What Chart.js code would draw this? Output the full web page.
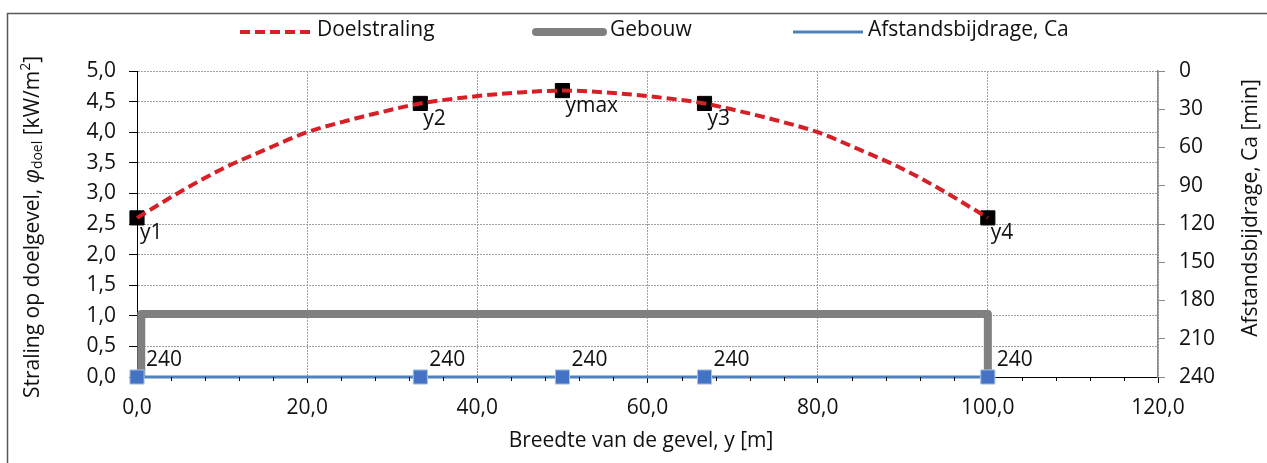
<!DOCTYPE html>
<html>
<head>
<meta charset="utf-8">
<script src="https://cdn.jsdelivr.net/npm/chart.js@4/dist/chart.umd.min.js"></script>
<style>
  html, body { margin: 0; padding: 0; background: #fff; overflow: hidden; }
  #wrap { width: 1267px; height: 463px; position: relative; }
</style>
</head>
<body>
<div id="wrap"><canvas id="chart"></canvas></div>
<script>
// Doelstraling along the facade
const curveX = [0, 5, 10, 15, 20, 25, 30, 33.3, 40, 45, 50, 55, 60, 66.7, 70, 75, 80, 85, 90, 95, 100];
const curveY = [2.6, 3.02, 3.4, 3.71, 4.0, 4.2, 4.37, 4.47, 4.59, 4.65, 4.68, 4.65, 4.59, 4.47, 4.37, 4.2, 4.0, 3.71, 3.4, 3.02, 2.6];

// marked points on the curve
const pointNames = ["y1", "y2", "ymax", "y3", "y4"];
const pointX = [0, 33.3, 50, 66.7, 100];
const pointY = [2.6, 4.47, 4.68, 4.47, 2.6];

// building outline
const gebouwX = [0.5, 0.5, 100, 100];
const gebouwY = [0, 1.03, 1.03, 0];

// Afstandsbijdrage Ca [min] at the marked points
const caValues = [240, 240, 240, 240, 240];

// axis ticks
const xTicks = [0, 20, 40, 60, 80, 100, 120];
const leftTicks = [0, 0.5, 1, 1.5, 2, 2.5, 3, 3.5, 4, 4.5, 5];
const rightTicks = [0, 30, 60, 90, 120, 150, 180, 210, 240];

const FONT = "'Open Sans', 'Noto Sans', sans-serif";
const SIZE = 21;
const TEXT = "#111";
const fmt1 = v => Number(v).toFixed(1).replace(".", ",");
const pairs = (xs, ys) => xs.map((x, i) => ({ x: x, y: ys[i] }));

const datasets = [
    {
        label: "Doelstraling",
        data: pairs(curveX, curveY),
        yAxisID: "y",
        showLine: true,
        borderColor: "#d71f27",
        borderWidth: 4,
        borderDash: [10, 5],
        cubicInterpolationMode: "monotone",
        pointRadius: 0,
        clip: false,
        order: 0
    },
    {
        label: "punten",
        data: pairs(pointX, pointY),
        yAxisID: "y",
        showLine: false,
        pointStyle: "rect",
        pointRadius: 10,
        pointBackgroundColor: "#000",
        pointBorderColor: "#000",
        pointBorderWidth: 1,
        clip: false,
        order: 2
    },
    {
        label: "Gebouw",
        data: pairs(gebouwX, gebouwY),
        yAxisID: "y",
        showLine: true,
        borderColor: "#808080",
        borderWidth: 8,
        borderJoinStyle: "round",
        borderCapStyle: "butt",
        tension: 0,
        pointRadius: 0,
        clip: false,
        order: 3
    },
    {
        label: "Afstandsbijdrage, Ca",
        data: pairs(pointX, caValues),
        yAxisID: "y2",
        showLine: true,
        borderColor: "#4f81bd",
        borderWidth: 3,
        pointStyle: "rect",
        pointRadius: 10,
        pointBackgroundColor: "#4472c4",
        pointBorderColor: "#a9c4e8",
        pointBorderWidth: 1,
        clip: false,
        order: 1
    }
];

// legend row: which datasets, where the sample line goes
const legendItems = [
    { ds: 0, x0: 240, x1: 310, tx: 317, cap: "butt" },
    { ds: 2, x0: 536, x1: 603, tx: 610, cap: "round" },
    { ds: 3, x0: 793, x1: 863, tx: 868, cap: "butt" }
];

function drawRotated(ctx, cx, cy, parts) {
    ctx.save();
    ctx.translate(cx, cy);
    ctx.rotate(-Math.PI / 2);
    let total = 0;
    parts.forEach(p => { ctx.font = p.font; total += ctx.measureText(p.text).width; });
    let x = -total / 2;
    ctx.textBaseline = "middle";
    ctx.textAlign = "left";
    ctx.fillStyle = TEXT;
    parts.forEach(p => {
        ctx.font = p.font;
        ctx.fillText(p.text, x, p.dy || 0);
        x += ctx.measureText(p.text).width;
    });
    ctx.restore();
}

const extras = {
    id: "extras",
    afterDatasetsDraw(chart) {
        const ctx = chart.ctx;
        ctx.save();
        ctx.font = SIZE + "px " + FONT;
        ctx.fillStyle = TEXT;
        ctx.textAlign = "left";

        // names of the marked points
        ctx.textBaseline = "top";
        chart.getDatasetMeta(1).data.forEach((pt, i) => {
            ctx.fillText(pointNames[i], pt.x + 3, pt.y + 5);
        });

        // Ca values above the blue markers
        ctx.textBaseline = "middle";
        chart.getDatasetMeta(3).data.forEach((pt, i) => {
            ctx.fillText(String(caValues[i]), pt.x + 9, pt.y - 17);
        });
        ctx.restore();
    },
    afterDraw(chart) {
        const ctx = chart.ctx;
        const area = chart.chartArea;
        ctx.save();

        // frame
        ctx.strokeStyle = "#595959";
        ctx.lineWidth = 1.5;
        ctx.strokeRect(7.5, 13.5, 1300, 500);

        // minor ticks on the x axis
        const xs = chart.scales.x;
        ctx.strokeStyle = "#000";
        ctx.lineWidth = 1;
        for (let v = 4; v < 120; v += 4) {
            if (v % 20 === 0) continue;
            const px = Math.round(xs.getPixelForValue(v)) + 0.5;
            ctx.beginPath();
            ctx.moveTo(px, area.bottom);
            ctx.lineTo(px, area.bottom + 4);
            ctx.stroke();
        }

        // legend
        ctx.font = SIZE + "px " + FONT;
        ctx.fillStyle = TEXT;
        ctx.textBaseline = "middle";
        ctx.textAlign = "left";
        legendItems.forEach(it => {
            const ds = chart.data.datasets[it.ds];
            ctx.save();
            ctx.strokeStyle = ds.borderColor;
            ctx.lineWidth = ds.borderWidth;
            ctx.lineCap = it.cap;
            ctx.setLineDash(ds.borderDash || []);
            ctx.beginPath();
            ctx.moveTo(it.x0, 32);
            ctx.lineTo(it.x1, 32);
            ctx.stroke();
            ctx.restore();
            ctx.fillText(ds.label, it.tx, 30);
        });

        // axis titles
        ctx.textAlign = "center";
        ctx.fillText("Breedte van de gevel, y [m]", 641, 441);

        drawRotated(ctx, 33, 227, [
            { text: "Straling op doelgevel, ", font: SIZE + "px " + FONT },
            { text: "\u03C6", font: "italic " + SIZE + "px " + FONT },
            { text: "doel", font: "14px " + FONT, dy: 5 },
            { text: " [kW/m", font: SIZE + "px " + FONT },
            { text: "2", font: "14px " + FONT, dy: -7 },
            { text: "]", font: SIZE + "px " + FONT }
        ]);
        drawRotated(ctx, 1251, 208, [
            { text: "Afstandsbijdrage, Ca [min]", font: SIZE + "px " + FONT }
        ]);
        ctx.restore();
    }
};

const tickFont = { family: FONT, size: SIZE };

new Chart(document.getElementById("chart"), {
    type: "scatter",
    data: { datasets: datasets },
    options: {
        responsive: true,
        maintainAspectRatio: false,
        animation: false,
        events: [],
        layout: { padding: { top: 71, left: 0, right: 0, bottom: 0 } },
        plugins: {
            legend: { display: false },
            tooltip: { enabled: false }
        },
        scales: {
            x: {
                type: "linear",
                position: "bottom",
                min: 0,
                max: 120,
                afterBuildTicks: s => { s.ticks = xTicks.map(v => ({ value: v })); },
                afterFit: s => { s.height = 86; },
                ticks: { callback: v => fmt1(v), color: TEXT, font: tickFont, padding: 12, maxRotation: 0, autoSkip: false },
                grid: { color: "#a0a0a0", lineWidth: 1, tickLength: 6, tickColor: "#000", tickWidth: 1, tickBorderDash: [] },
                border: { color: "#000", width: 1, dash: [2, 1] }
            },
            y: {
                type: "linear",
                position: "left",
                min: 0,
                max: 5,
                afterBuildTicks: s => { s.ticks = leftTicks.map(v => ({ value: v })); },
                afterFit: s => { s.width = 137; },
                ticks: { callback: v => fmt1(v), color: TEXT, font: tickFont, padding: 13 },
                grid: { color: "#a0a0a0", lineWidth: 1, tickLength: 8, tickColor: "#000", tickWidth: 1, tickBorderDash: [] },
                border: { color: "#000", width: 1, dash: [2, 1] }
            },
            y2: {
                type: "linear",
                position: "right",
                min: 0,
                max: 240,
                reverse: true,
                afterBuildTicks: s => { s.ticks = rightTicks.map(v => ({ value: v })); },
                afterFit: s => { s.width = 109; },
                ticks: { callback: v => String(v), color: TEXT, font: tickFont, padding: 14 },
                grid: { drawOnChartArea: false, tickLength: 7, tickColor: "#888", tickWidth: 1 },
                border: { color: "#888", width: 1.5 }
            }
        }
    },
    plugins: [extras]
});
</script>
</body>
</html>
